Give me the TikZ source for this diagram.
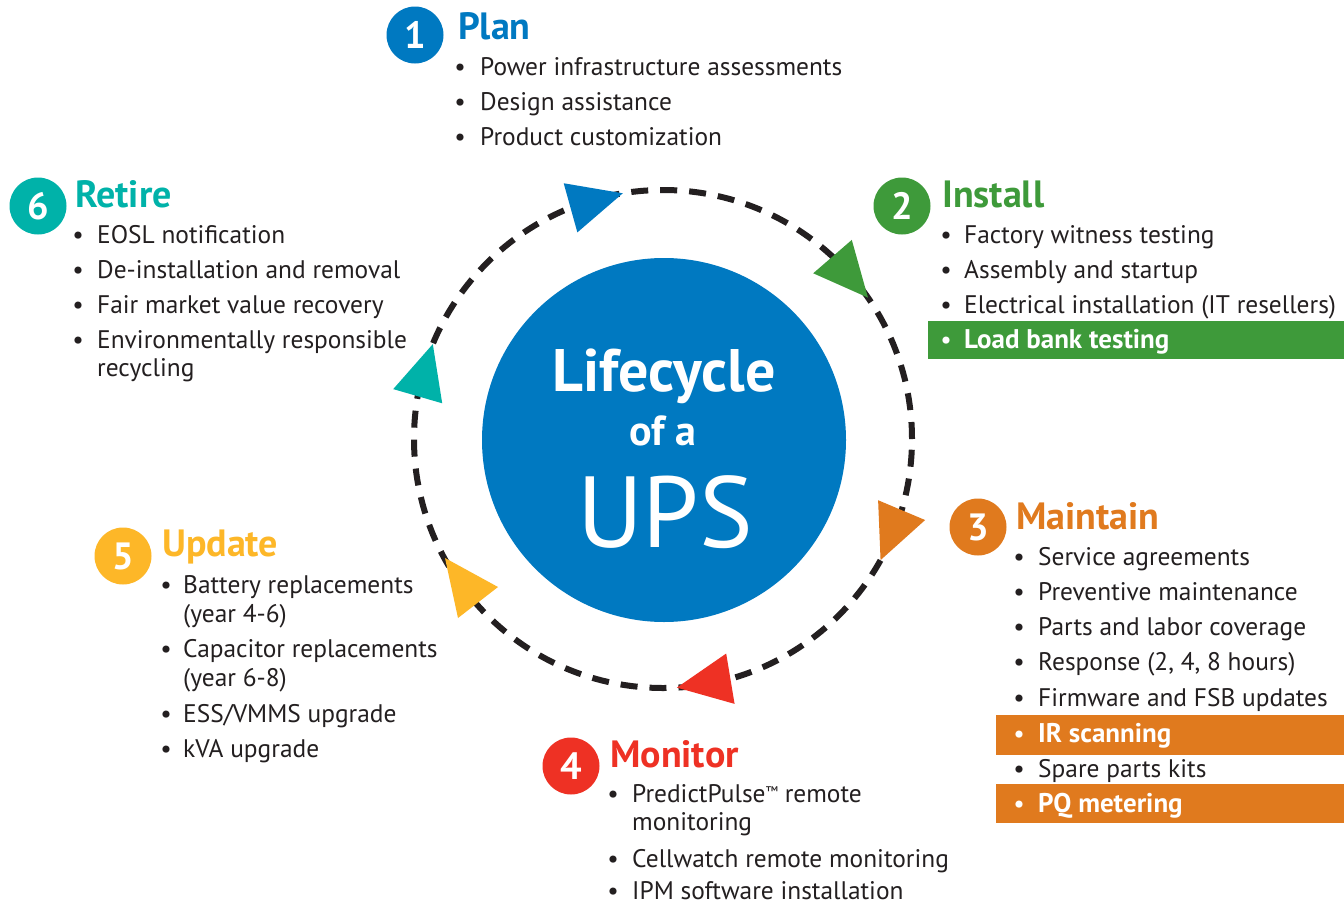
\documentclass[tikz,border=0pt]{standalone}
\usepackage{fontspec}
\setmainfont{PT Sans}
\usetikzlibrary{calc}
\definecolor{upsblue}{HTML}{0079C1}
\definecolor{upsgreen}{HTML}{3E9A3A}
\definecolor{upsorange}{HTML}{E07A1E}
\definecolor{upsred}{HTML}{EE3124}
\definecolor{upsyellow}{HTML}{FDB728}
\definecolor{upsteal}{HTML}{00B2A9}
\definecolor{txt}{HTML}{231F20}
\newcommand{\bodyfnt}{\fontsize{25.4}{25.4}\selectfont}
\newcommand{\hlfnt}{\fontsize{27}{27}\selectfont\bfseries}
\newcommand{\ttlfnt}{\fontsize{38}{38}\selectfont\bfseries}
\newcommand{\numfnt}{\fontsize{38}{38}\selectfont\bfseries}
\newcommand{\smalltm}{{\fontsize{14}{14}\selectfont\raisebox{6pt}{™}}}
\begin{document}
\begin{tikzpicture}[x=1pt,y=1pt,
  bul/.style={anchor=base, inner sep=0pt, font=\bodyfnt, text=txt},
  itm/.style={anchor=base west, inner sep=0pt, font=\bodyfnt, text=txt},
  hl/.style={text=white, font=\hlfnt},
  ttl/.style={anchor=base west, inner sep=0pt, font=\ttlfnt},
  numc/.style={circle, inner sep=0pt, minimum size=57pt, text=white, font=\numfnt},
  ring/.style={draw=txt, line width=6pt, dash pattern=on 17pt off 12pt}
]
\useasboundingbox (0,0) rectangle (1344,-905);
\fill[white] (0,0) rectangle (1344,-905);

% central circle and dashed ring
\coordinate (C) at (663,-439);
\draw[ring] (C) circle[radius=249];
\node[circle, fill=upsblue, inner sep=0pt, minimum size=364pt] (core) at (664,-440) {};
\node[anchor=base, inner sep=0pt, text=white, font=\fontsize{60}{60}\selectfont\bfseries] (l1) at (664,-391) {Lifecycle};
\node[anchor=base, inner sep=0pt, text=white, font=\fontsize{42}{42}\selectfont\bfseries] (l2) at (663,-445) {of a};
\node[anchor=base, inner sep=0pt, text=white, font=\fontsize{101}{101}\selectfont] (l3) at (665,-547) {UPS};

% arrowheads on the ring
\foreach \t/\c in {99.3/upsblue, 34.6/upsgreen, -29.1/upsorange, -86.8/upsred, 157.6/upsteal}{
  \coordinate (tip) at ($(C)+(\t:249)$);
  \coordinate (bm) at ($(C)+(\t+12.5:249)$);
  \fill[\c] (tip) -- ($(bm)!25.5pt!90:(tip)$) -- ($(bm)!25.5pt!-90:(tip)$) -- cycle;
}
\fill[upsyellow] (498,-587) -- (445,-558) -- (458,-618) -- cycle;

% 1 Plan
\node[numc, fill=upsblue] (n1) at (415,-35) {1};
\node[ttl, text=upsblue] (t1) at (458,-39) {Plan};
\node[bul] (b11) at (460,-75) {•}; \node[itm] (i11) at (480,-75) {Power infrastructure assessments};
\node[bul] (b12) at (460,-110) {•}; \node[itm] (i12) at (480,-110) {Design assistance};
\node[bul] (b13) at (460,-145) {•}; \node[itm] (i13) at (480,-145) {Product customization};

% 6 Retire
\node[numc, fill=upsteal] (n6) at (38,-206) {6};
\node[ttl, text=upsteal] (t6) at (75,-207) {Retire};
\node[bul] (b61) at (78,-243) {•}; \node[itm] (i61) at (97,-243) {EOSL notification};
\node[bul] (b62) at (78,-278) {•}; \node[itm] (i62) at (97,-278) {De-installation and removal};
\node[bul] (b63) at (78,-313) {•}; \node[itm] (i63) at (97,-313) {Fair market value recovery};
\node[bul] (b64) at (78,-348) {•}; \node[itm] (i64) at (97,-348) {Environmentally responsible};
\node[itm] (i65) at (97,-376) {recycling};

% 2 Install
\node[numc, fill=upsgreen] (n2) at (902,-206) {2};
\node[ttl, text=upsgreen] (t2) at (942,-207) {Install};
\node[bul] (b21) at (946,-243) {•}; \node[itm] (i21) at (964,-243) {Factory witness testing};
\node[bul] (b22) at (946,-278) {•}; \node[itm] (i22) at (964,-278) {Assembly and startup};
\node[bul] (b23) at (946,-313) {•}; \node[itm] (i23) at (964,-313) {Electrical installation (IT resellers)};
\fill[upsgreen] (928,-321) rectangle (1344,-359);
\node[bul, text=white] (b24) at (946,-348) {•}; \node[itm, hl] (i24) at (964,-348) {Load bank testing};

% 3 Maintain
\node[numc, fill=upsorange] (n3) at (978,-527) {3};
\node[ttl, text=upsorange] (t3) at (1016,-529) {Maintain};
\node[bul] (b31) at (1019,-565) {•}; \node[itm] (i31) at (1038,-565) {Service agreements};
\node[bul] (b32) at (1019,-600) {•}; \node[itm] (i32) at (1038,-600) {Preventive maintenance};
\node[bul] (b33) at (1019,-635) {•}; \node[itm] (i33) at (1038,-635) {Parts and labor coverage};
\node[bul] (b34) at (1019,-670) {•}; \node[itm] (i34) at (1038,-670) {Response (2, 4, 8 hours)};
\node[bul] (b35) at (1019,-706) {•}; \node[itm] (i35) at (1038,-706) {Firmware and FSB updates};
\fill[upsorange] (996,-715) rectangle (1344,-755);
\node[bul, text=white] (b36) at (1019,-742) {•}; \node[itm, hl] (i36) at (1038,-742) {IR scanning};
\node[bul] (b37) at (1019,-777) {•}; \node[itm] (i37) at (1038,-777) {Spare parts kits};
\fill[upsorange] (996,-784) rectangle (1344,-823);
\node[bul, text=white] (b38) at (1019,-812) {•}; \node[itm, hl] (i38) at (1038,-812) {PQ metering};

% 5 Update
\node[numc, fill=upsyellow] (n5) at (123,-556) {5};
\node[ttl, text=upsyellow] (t5) at (162,-556) {Update};
\node[bul] (b51) at (166,-593) {•}; \node[itm] (i51) at (183,-593) {Battery replacements};
\node[itm] (i52) at (183,-622) {(year 4-6)};
\node[bul] (b53) at (166,-657) {•}; \node[itm] (i53) at (183,-657) {Capacitor replacements};
\node[itm] (i54) at (183,-686) {(year 6-8)};
\node[bul] (b55) at (166,-722) {•}; \node[itm] (i55) at (183,-722) {ESS/VMMS upgrade};
\node[bul] (b56) at (166,-757) {•}; \node[itm] (i56) at (183,-757) {kVA upgrade};

% 4 Monitor
\node[numc, fill=upsred] (n4) at (571,-766) {4};
\node[ttl, text=upsred] (t4) at (610,-767) {Monitor};
\node[bul] (b41) at (613,-802) {•}; \node[itm] (i41) at (632,-802) {PredictPulse\smalltm{} remote};
\node[itm] (i42) at (632,-830) {monitoring};
\node[bul] (b43) at (613,-867) {•}; \node[itm] (i43) at (632,-867) {Cellwatch remote monitoring};
\node[bul] (b44) at (613,-899) {•}; \node[itm] (i44) at (632,-899) {IPM software installation};
\end{tikzpicture}
\end{document}
